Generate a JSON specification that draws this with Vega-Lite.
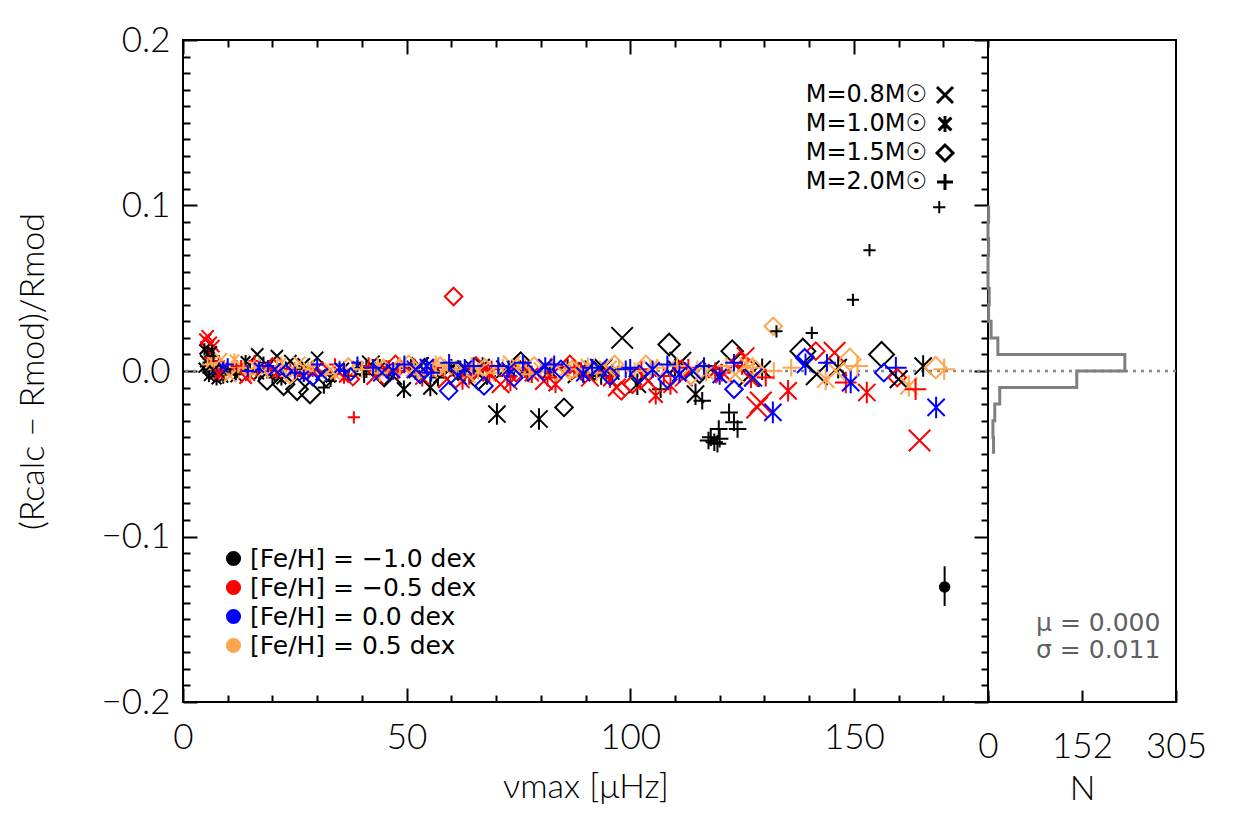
{
  "$schema": "https://vega.github.io/schema/vega-lite/v6.json",
  "background": "white",
  "padding": {"left": 15, "top": 22, "right": 5, "bottom": 5},
  "bounds": "flush",
  "spacing": 0,
  "config": {
    "view": {"stroke": "black", "strokeWidth": 2},
    "axis": {
      "labelFont": "Lato", "labelFontWeight": 300, "labelFontSize": 35, "labelColor": "black",
      "titleFont": "Lato", "titleFontWeight": 300, "titleFontSize": 34, "titleColor": "black",
      "tickColor": "black", "tickWidth": 2, "domain": false, "grid": false,
      "labelFlush": false, "labelOverlap": false, "labelBound": false
    },
    "legend": {"padding": 0, "labelLimit": 400}
  },
  "datasets": {
    "pts": [
      {"x":5.0,"y":0.019,"m":"0.8","f":"-0.5","s":1},
      {"x":5.5,"y":0.021,"m":"0.8","f":"-0.5","s":1},
      {"x":6.2,"y":0.017,"m":"0.8","f":"-0.5","s":1},
      {"x":6.8,"y":0.015,"m":"0.8","f":"-0.5","s":1},
      {"x":5.2,"y":0.014,"m":"0.8","f":"-0.5","s":1},
      {"x":4.8,"y":0.013,"m":"1.0","f":"-1.0","s":1},
      {"x":5.5,"y":0.010,"m":"1.0","f":"-1.0","s":1},
      {"x":6.5,"y":0.012,"m":"1.0","f":"-1.0","s":1},
      {"x":4.6,"y":0.002,"m":"1.0","f":"-1.0","s":1},
      {"x":5.8,"y":-0.003,"m":"1.0","f":"-1.0","s":1},
      {"x":7.5,"y":-0.005,"m":"1.0","f":"-1.0","s":1},
      {"x":9.0,"y":-0.004,"m":"1.0","f":"-1.0","s":1},
      {"x":5.2,"y":0.006,"m":"0.8","f":"-1.0","s":1},
      {"x":7.0,"y":0.003,"m":"0.8","f":"-1.0","s":1},
      {"x":8.5,"y":-0.002,"m":"0.8","f":"-1.0","s":1},
      {"x":10.5,"y":0.000,"m":"0.8","f":"-1.0","s":1},
      {"x":12.0,"y":-0.003,"m":"0.8","f":"-1.0","s":1},
      {"x":5.5,"y":0.004,"m":"2.0","f":"0.5","s":1},
      {"x":7.0,"y":0.001,"m":"2.0","f":"0.5","s":1},
      {"x":8.0,"y":0.005,"m":"2.0","f":"0.5","s":1},
      {"x":9.5,"y":-0.002,"m":"2.0","f":"0.5","s":1},
      {"x":11.0,"y":0.002,"m":"2.0","f":"0.5","s":1},
      {"x":12.5,"y":-0.001,"m":"2.0","f":"0.5","s":1},
      {"x":6.0,"y":0.008,"m":"2.0","f":"-0.5","s":1},
      {"x":8.0,"y":0.006,"m":"2.0","f":"-0.5","s":1},
      {"x":10.0,"y":0.001,"m":"2.0","f":"-0.5","s":1},
      {"x":12.0,"y":0.003,"m":"2.0","f":"-0.5","s":1},
      {"x":6.5,"y":0.006,"m":"1.0","f":"0.5","s":1},
      {"x":9.0,"y":0.003,"m":"1.0","f":"0.5","s":1},
      {"x":11.5,"y":0.007,"m":"1.0","f":"0.5","s":1},
      {"x":7.5,"y":-0.001,"m":"2.0","f":"0.0","s":1},
      {"x":10.0,"y":0.004,"m":"2.0","f":"0.0","s":1},
      {"x":6.8,"y":0.009,"m":"2.0","f":"-1.0","s":1},
      {"x":9.5,"y":0.001,"m":"2.0","f":"-1.0","s":1},
      {"x":11.8,"y":-0.002,"m":"2.0","f":"-1.0","s":1},
      {"x":8.5,"y":0.007,"m":"0.8","f":"0.5","s":1},
      {"x":10.5,"y":-0.003,"m":"0.8","f":"0.5","s":1},
      {"x":6.0,"y":-0.001,"m":"1.5","f":"-1.0","s":1},
      {"x":8.0,"y":0.000,"m":"1.5","f":"-1.0","s":1},
      {"x":9.0,"y":0.002,"m":"1.0","f":"0.0","s":1},
      {"x":8.0,"y":-0.002,"m":"1.0","f":"-0.5","s":1},
      {"x":16.6,"y":0.010,"m":"0.8","f":"-1.0","s":1},
      {"x":21.0,"y":0.009,"m":"0.8","f":"-1.0","s":1},
      {"x":30.0,"y":0.008,"m":"0.8","f":"-1.0","s":1},
      {"x":24.0,"y":0.006,"m":"0.8","f":"-1.0","s":1},
      {"x":27.0,"y":0.004,"m":"0.8","f":"-1.0","s":1},
      {"x":14.0,"y":0.006,"m":"1.0","f":"-1.0","s":1},
      {"x":17.0,"y":-0.002,"m":"1.0","f":"-1.0","s":1},
      {"x":19.0,"y":0.003,"m":"1.0","f":"-1.0","s":1},
      {"x":22.0,"y":-0.005,"m":"1.0","f":"-1.0","s":1},
      {"x":26.0,"y":0.000,"m":"1.0","f":"-1.0","s":1},
      {"x":33.0,"y":-0.004,"m":"1.0","f":"-1.0","s":1},
      {"x":36.0,"y":0.002,"m":"1.0","f":"-1.0","s":1},
      {"x":39.0,"y":0.003,"m":"1.0","f":"-1.0","s":1},
      {"x":15.0,"y":0.001,"m":"2.0","f":"-1.0","s":1},
      {"x":18.0,"y":0.005,"m":"2.0","f":"-1.0","s":1},
      {"x":20.0,"y":-0.004,"m":"2.0","f":"-1.0","s":1},
      {"x":23.0,"y":0.002,"m":"2.0","f":"-1.0","s":1},
      {"x":31.5,"y":-0.010,"m":"2.0","f":"-1.0","s":1},
      {"x":33.0,"y":-0.006,"m":"2.0","f":"-1.0","s":1},
      {"x":37.0,"y":-0.003,"m":"2.0","f":"-1.0","s":1},
      {"x":18.8,"y":-0.006,"m":"1.5","f":"-1.0","s":2},
      {"x":22.5,"y":-0.008,"m":"1.5","f":"-1.0","s":3},
      {"x":25.5,"y":-0.011,"m":"1.5","f":"-1.0","s":3},
      {"x":28.4,"y":-0.013,"m":"1.5","f":"-1.0","s":3},
      {"x":32.0,"y":-0.004,"m":"1.5","f":"-1.0","s":2},
      {"x":13.0,"y":0.003,"m":"2.0","f":"-0.5","s":1},
      {"x":16.0,"y":0.006,"m":"2.0","f":"-0.5","s":1},
      {"x":19.5,"y":0.002,"m":"2.0","f":"-0.5","s":1},
      {"x":24.0,"y":0.001,"m":"2.0","f":"-0.5","s":1},
      {"x":28.0,"y":-0.001,"m":"2.0","f":"-0.5","s":1},
      {"x":34.0,"y":0.004,"m":"2.0","f":"-0.5","s":1},
      {"x":38.2,"y":-0.028,"m":"2.0","f":"-0.5","s":1},
      {"x":14.0,"y":-0.004,"m":"0.8","f":"-0.5","s":1},
      {"x":17.5,"y":0.001,"m":"0.8","f":"-0.5","s":1},
      {"x":26.0,"y":-0.002,"m":"0.8","f":"-0.5","s":1},
      {"x":30.0,"y":0.002,"m":"0.8","f":"-0.5","s":1},
      {"x":35.0,"y":-0.001,"m":"0.8","f":"-0.5","s":1},
      {"x":15.0,"y":-0.003,"m":"1.0","f":"-0.5","s":1},
      {"x":21.0,"y":-0.001,"m":"1.0","f":"-0.5","s":1},
      {"x":29.0,"y":0.000,"m":"1.0","f":"-0.5","s":1},
      {"x":36.0,"y":-0.004,"m":"1.0","f":"-0.5","s":1},
      {"x":20.0,"y":0.004,"m":"1.5","f":"-0.5","s":1},
      {"x":31.0,"y":0.001,"m":"1.5","f":"-0.5","s":1},
      {"x":38.0,"y":-0.005,"m":"1.5","f":"-0.5","s":1},
      {"x":13.5,"y":0.002,"m":"2.0","f":"0.5","s":1},
      {"x":15.0,"y":-0.002,"m":"2.0","f":"0.5","s":1},
      {"x":17.0,"y":0.004,"m":"2.0","f":"0.5","s":1},
      {"x":19.0,"y":-0.001,"m":"2.0","f":"0.5","s":1},
      {"x":21.0,"y":0.003,"m":"2.0","f":"0.5","s":1},
      {"x":23.0,"y":-0.003,"m":"2.0","f":"0.5","s":1},
      {"x":25.0,"y":0.002,"m":"2.0","f":"0.5","s":1},
      {"x":27.0,"y":0.000,"m":"2.0","f":"0.5","s":1},
      {"x":29.0,"y":0.003,"m":"2.0","f":"0.5","s":1},
      {"x":32.0,"y":-0.002,"m":"2.0","f":"0.5","s":1},
      {"x":35.0,"y":0.003,"m":"2.0","f":"0.5","s":1},
      {"x":38.0,"y":0.001,"m":"2.0","f":"0.5","s":1},
      {"x":16.0,"y":0.003,"m":"1.0","f":"0.5","s":1},
      {"x":22.0,"y":0.005,"m":"1.0","f":"0.5","s":1},
      {"x":28.0,"y":0.002,"m":"1.0","f":"0.5","s":1},
      {"x":34.0,"y":-0.002,"m":"1.0","f":"0.5","s":1},
      {"x":18.0,"y":0.000,"m":"0.8","f":"0.5","s":1},
      {"x":26.0,"y":0.005,"m":"0.8","f":"0.5","s":1},
      {"x":33.0,"y":0.001,"m":"0.8","f":"0.5","s":1},
      {"x":24.0,"y":-0.004,"m":"1.5","f":"0.5","s":1},
      {"x":37.0,"y":0.004,"m":"1.5","f":"0.5","s":1},
      {"x":14.5,"y":0.000,"m":"2.0","f":"0.0","s":1},
      {"x":19.0,"y":0.003,"m":"2.0","f":"0.0","s":1},
      {"x":25.0,"y":-0.001,"m":"2.0","f":"0.0","s":1},
      {"x":30.0,"y":0.004,"m":"2.0","f":"0.0","s":1},
      {"x":36.0,"y":0.000,"m":"2.0","f":"0.0","s":1},
      {"x":39.0,"y":0.005,"m":"2.0","f":"0.0","s":1},
      {"x":17.0,"y":0.002,"m":"1.0","f":"0.0","s":1},
      {"x":27.0,"y":-0.003,"m":"1.0","f":"0.0","s":1},
      {"x":35.0,"y":0.002,"m":"1.0","f":"0.0","s":1},
      {"x":20.5,"y":0.001,"m":"0.8","f":"0.0","s":1},
      {"x":31.0,"y":-0.002,"m":"0.8","f":"0.0","s":1},
      {"x":23.0,"y":0.000,"m":"1.5","f":"0.0","s":1},
      {"x":29.0,"y":-0.005,"m":"1.5","f":"0.0","s":1},
      {"x":37.5,"y":-0.002,"m":"1.5","f":"0.0","s":1},
      {"x":41.0,"y":0.001,"m":"1.0","f":"-1.0","s":2},
      {"x":44.0,"y":0.002,"m":"1.0","f":"-1.0","s":2},
      {"x":49.4,"y":-0.011,"m":"1.0","f":"-1.0","s":2},
      {"x":52.0,"y":0.000,"m":"1.0","f":"-1.0","s":2},
      {"x":55.3,"y":-0.010,"m":"1.0","f":"-1.0","s":2},
      {"x":60.0,"y":0.002,"m":"1.0","f":"-1.0","s":2},
      {"x":63.0,"y":-0.001,"m":"1.0","f":"-1.0","s":2},
      {"x":67.0,"y":0.003,"m":"1.0","f":"-1.0","s":2},
      {"x":42.0,"y":0.004,"m":"0.8","f":"-1.0","s":2},
      {"x":47.0,"y":-0.003,"m":"0.8","f":"-1.0","s":2},
      {"x":53.0,"y":0.003,"m":"0.8","f":"-1.0","s":2},
      {"x":58.0,"y":-0.002,"m":"0.8","f":"-1.0","s":2},
      {"x":65.0,"y":0.001,"m":"0.8","f":"-1.0","s":2},
      {"x":40.5,"y":-0.002,"m":"2.0","f":"-1.0","s":2},
      {"x":46.0,"y":0.001,"m":"2.0","f":"-1.0","s":2},
      {"x":51.0,"y":0.002,"m":"2.0","f":"-1.0","s":2},
      {"x":57.0,"y":-0.004,"m":"2.0","f":"-1.0","s":2},
      {"x":62.0,"y":0.001,"m":"2.0","f":"-1.0","s":2},
      {"x":68.0,"y":-0.003,"m":"2.0","f":"-1.0","s":2},
      {"x":45.0,"y":-0.004,"m":"1.5","f":"-1.0","s":2},
      {"x":54.0,"y":0.002,"m":"1.5","f":"-1.0","s":2},
      {"x":61.5,"y":0.000,"m":"1.5","f":"-1.0","s":2},
      {"x":66.0,"y":-0.006,"m":"1.5","f":"-1.0","s":2},
      {"x":41.5,"y":0.003,"m":"2.0","f":"-0.5","s":2},
      {"x":48.0,"y":0.000,"m":"2.0","f":"-0.5","s":2},
      {"x":56.0,"y":0.002,"m":"2.0","f":"-0.5","s":2},
      {"x":64.0,"y":-0.003,"m":"2.0","f":"-0.5","s":2},
      {"x":69.0,"y":0.001,"m":"2.0","f":"-0.5","s":2},
      {"x":43.0,"y":-0.003,"m":"0.8","f":"-0.5","s":2},
      {"x":50.0,"y":0.002,"m":"0.8","f":"-0.5","s":2},
      {"x":59.0,"y":-0.005,"m":"0.8","f":"-0.5","s":2},
      {"x":66.5,"y":-0.001,"m":"0.8","f":"-0.5","s":2},
      {"x":45.5,"y":0.001,"m":"1.0","f":"-0.5","s":2},
      {"x":53.5,"y":-0.004,"m":"1.0","f":"-0.5","s":2},
      {"x":62.5,"y":-0.006,"m":"1.0","f":"-0.5","s":2},
      {"x":68.5,"y":-0.002,"m":"1.0","f":"-0.5","s":2},
      {"x":47.5,"y":0.004,"m":"1.5","f":"-0.5","s":2},
      {"x":60.5,"y":0.045,"m":"1.5","f":"-0.5","s":2},
      {"x":65.5,"y":0.003,"m":"1.5","f":"-0.5","s":2},
      {"x":40.0,"y":0.001,"m":"2.0","f":"0.5","s":2},
      {"x":44.0,"y":-0.001,"m":"2.0","f":"0.5","s":2},
      {"x":48.5,"y":0.003,"m":"2.0","f":"0.5","s":2},
      {"x":52.5,"y":-0.002,"m":"2.0","f":"0.5","s":2},
      {"x":56.5,"y":0.004,"m":"2.0","f":"0.5","s":2},
      {"x":61.0,"y":0.001,"m":"2.0","f":"0.5","s":2},
      {"x":64.5,"y":0.003,"m":"2.0","f":"0.5","s":2},
      {"x":69.5,"y":-0.001,"m":"2.0","f":"0.5","s":2},
      {"x":43.5,"y":0.003,"m":"1.0","f":"0.5","s":2},
      {"x":51.5,"y":0.001,"m":"1.0","f":"0.5","s":2},
      {"x":58.5,"y":0.002,"m":"1.0","f":"0.5","s":2},
      {"x":66.0,"y":0.000,"m":"1.0","f":"0.5","s":2},
      {"x":46.5,"y":0.002,"m":"0.8","f":"0.5","s":2},
      {"x":55.0,"y":0.001,"m":"0.8","f":"0.5","s":2},
      {"x":63.5,"y":-0.002,"m":"0.8","f":"0.5","s":2},
      {"x":50.5,"y":0.004,"m":"1.5","f":"0.5","s":2},
      {"x":57.5,"y":0.003,"m":"1.5","f":"0.5","s":2},
      {"x":67.5,"y":0.002,"m":"1.5","f":"0.5","s":2},
      {"x":42.5,"y":0.002,"m":"2.0","f":"0.0","s":2},
      {"x":49.5,"y":0.004,"m":"2.0","f":"0.0","s":2},
      {"x":55.5,"y":-0.001,"m":"2.0","f":"0.0","s":2},
      {"x":59.5,"y":0.005,"m":"2.0","f":"0.0","s":2},
      {"x":65.0,"y":0.003,"m":"2.0","f":"0.0","s":2},
      {"x":47.0,"y":0.000,"m":"1.0","f":"0.0","s":2},
      {"x":54.5,"y":0.003,"m":"1.0","f":"0.0","s":2},
      {"x":63.0,"y":0.002,"m":"1.0","f":"0.0","s":2},
      {"x":44.5,"y":-0.001,"m":"0.8","f":"0.0","s":2},
      {"x":52.0,"y":0.001,"m":"0.8","f":"0.0","s":2},
      {"x":61.5,"y":-0.003,"m":"0.8","f":"0.0","s":2},
      {"x":59.4,"y":-0.012,"m":"1.5","f":"0.0","s":2},
      {"x":67.3,"y":-0.009,"m":"1.5","f":"0.0","s":2},
      {"x":53.0,"y":-0.002,"m":"1.5","f":"0.0","s":2},
      {"x":70.2,"y":-0.026,"m":"1.0","f":"-1.0","s":3},
      {"x":79.6,"y":-0.029,"m":"1.0","f":"-1.0","s":3},
      {"x":74.0,"y":0.002,"m":"1.0","f":"-1.0","s":2},
      {"x":82.0,"y":0.000,"m":"1.0","f":"-1.0","s":2},
      {"x":90.0,"y":0.001,"m":"1.0","f":"-1.0","s":2},
      {"x":96.0,"y":-0.001,"m":"1.0","f":"-1.0","s":2},
      {"x":75.5,"y":0.006,"m":"1.5","f":"-1.0","s":2},
      {"x":85.2,"y":-0.022,"m":"1.5","f":"-1.0","s":2},
      {"x":92.0,"y":0.000,"m":"1.5","f":"-1.0","s":2},
      {"x":72.0,"y":0.001,"m":"0.8","f":"-1.0","s":2},
      {"x":88.0,"y":-0.002,"m":"0.8","f":"-1.0","s":2},
      {"x":94.0,"y":0.002,"m":"0.8","f":"-1.0","s":2},
      {"x":98.2,"y":0.020,"m":"0.8","f":"-1.0","s":3},
      {"x":77.0,"y":-0.001,"m":"2.0","f":"-1.0","s":2},
      {"x":86.0,"y":0.002,"m":"2.0","f":"-1.0","s":2},
      {"x":93.5,"y":-0.003,"m":"2.0","f":"-1.0","s":2},
      {"x":71.0,"y":-0.008,"m":"0.8","f":"-0.5","s":2},
      {"x":80.7,"y":-0.006,"m":"0.8","f":"-0.5","s":2},
      {"x":84.0,"y":0.002,"m":"0.8","f":"-0.5","s":2},
      {"x":91.0,"y":-0.004,"m":"0.8","f":"-0.5","s":2},
      {"x":97.0,"y":-0.010,"m":"0.8","f":"-0.5","s":2},
      {"x":73.2,"y":-0.007,"m":"1.0","f":"-0.5","s":2},
      {"x":83.3,"y":-0.008,"m":"1.0","f":"-0.5","s":2},
      {"x":78.0,"y":-0.002,"m":"1.0","f":"-0.5","s":2},
      {"x":89.0,"y":0.000,"m":"1.0","f":"-0.5","s":2},
      {"x":95.5,"y":-0.005,"m":"1.0","f":"-0.5","s":2},
      {"x":72.5,"y":-0.003,"m":"2.0","f":"-0.5","s":2},
      {"x":76.5,"y":0.001,"m":"2.0","f":"-0.5","s":2},
      {"x":81.5,"y":-0.004,"m":"2.0","f":"-0.5","s":2},
      {"x":87.5,"y":0.002,"m":"2.0","f":"-0.5","s":2},
      {"x":94.5,"y":0.000,"m":"2.0","f":"-0.5","s":2},
      {"x":74.5,"y":-0.001,"m":"1.5","f":"-0.5","s":2},
      {"x":86.5,"y":0.004,"m":"1.5","f":"-0.5","s":2},
      {"x":98.0,"y":-0.012,"m":"1.5","f":"-0.5","s":2},
      {"x":71.5,"y":0.002,"m":"2.0","f":"0.5","s":2},
      {"x":77.5,"y":-0.002,"m":"2.0","f":"0.5","s":2},
      {"x":82.5,"y":0.003,"m":"2.0","f":"0.5","s":2},
      {"x":88.0,"y":0.001,"m":"2.0","f":"0.5","s":2},
      {"x":92.5,"y":-0.001,"m":"2.0","f":"0.5","s":2},
      {"x":97.5,"y":0.002,"m":"2.0","f":"0.5","s":2},
      {"x":75.0,"y":0.003,"m":"1.0","f":"0.5","s":2},
      {"x":80.0,"y":0.001,"m":"1.0","f":"0.5","s":2},
      {"x":90.5,"y":0.003,"m":"1.0","f":"0.5","s":2},
      {"x":73.5,"y":0.004,"m":"0.8","f":"0.5","s":2},
      {"x":85.0,"y":-0.001,"m":"0.8","f":"0.5","s":2},
      {"x":95.0,"y":0.001,"m":"0.8","f":"0.5","s":2},
      {"x":78.5,"y":0.003,"m":"1.5","f":"0.5","s":2},
      {"x":87.0,"y":0.001,"m":"1.5","f":"0.5","s":2},
      {"x":96.5,"y":0.004,"m":"1.5","f":"0.5","s":2},
      {"x":70.5,"y":0.003,"m":"2.0","f":"0.0","s":2},
      {"x":76.0,"y":0.005,"m":"2.0","f":"0.0","s":2},
      {"x":83.0,"y":0.004,"m":"2.0","f":"0.0","s":2},
      {"x":91.5,"y":0.002,"m":"2.0","f":"0.0","s":2},
      {"x":99.0,"y":0.001,"m":"2.0","f":"0.0","s":2},
      {"x":72.8,"y":0.001,"m":"1.0","f":"0.0","s":2},
      {"x":81.0,"y":0.003,"m":"1.0","f":"0.0","s":2},
      {"x":89.5,"y":-0.002,"m":"1.0","f":"0.0","s":2},
      {"x":79.0,"y":-0.001,"m":"0.8","f":"0.0","s":2},
      {"x":93.0,"y":0.002,"m":"0.8","f":"0.0","s":2},
      {"x":74.0,"y":-0.004,"m":"1.5","f":"0.0","s":2},
      {"x":84.5,"y":0.001,"m":"1.5","f":"0.0","s":2},
      {"x":95.5,"y":-0.003,"m":"1.5","f":"0.0","s":2},
      {"x":101.6,"y":-0.008,"m":"1.0","f":"-1.0","s":3},
      {"x":114.6,"y":-0.014,"m":"1.0","f":"-1.0","s":3},
      {"x":110.0,"y":0.002,"m":"1.0","f":"-1.0","s":2},
      {"x":129.5,"y":0.001,"m":"1.0","f":"-1.0","s":3},
      {"x":111.2,"y":0.005,"m":"0.8","f":"-1.0","s":3},
      {"x":103.0,"y":-0.003,"m":"0.8","f":"-1.0","s":2},
      {"x":126.5,"y":-0.003,"m":"0.8","f":"-1.0","s":3},
      {"x":118.0,"y":0.001,"m":"0.8","f":"-1.0","s":2},
      {"x":108.7,"y":0.016,"m":"1.5","f":"-1.0","s":3},
      {"x":122.8,"y":0.012,"m":"1.5","f":"-1.0","s":3},
      {"x":115.5,"y":-0.002,"m":"1.5","f":"-1.0","s":2},
      {"x":106.8,"y":-0.011,"m":"2.0","f":"-1.0","s":2},
      {"x":116.1,"y":-0.018,"m":"2.0","f":"-1.0","s":2},
      {"x":118.0,"y":-0.040,"m":"2.0","f":"-1.0","s":2},
      {"x":118.8,"y":-0.043,"m":"2.0","f":"-1.0","s":2},
      {"x":120.0,"y":-0.041,"m":"2.0","f":"-1.0","s":2},
      {"x":119.5,"y":-0.044,"m":"2.0","f":"-1.0","s":2},
      {"x":119.8,"y":-0.035,"m":"2.0","f":"-1.0","s":2},
      {"x":122.1,"y":-0.025,"m":"2.0","f":"-1.0","s":2},
      {"x":123.2,"y":-0.031,"m":"2.0","f":"-1.0","s":2},
      {"x":124.0,"y":-0.035,"m":"2.0","f":"-1.0","s":2},
      {"x":117.5,"y":-0.042,"m":"2.0","f":"-1.0","s":2},
      {"x":125.8,"y":0.009,"m":"0.8","f":"-0.5","s":2},
      {"x":128.4,"y":-0.022,"m":"0.8","f":"-0.5","s":3},
      {"x":104.0,"y":-0.006,"m":"0.8","f":"-0.5","s":2},
      {"x":112.0,"y":-0.004,"m":"0.8","f":"-0.5","s":2},
      {"x":121.0,"y":-0.002,"m":"0.8","f":"-0.5","s":2},
      {"x":105.7,"y":-0.015,"m":"1.0","f":"-0.5","s":2},
      {"x":109.0,"y":-0.009,"m":"1.0","f":"-0.5","s":2},
      {"x":119.0,"y":0.000,"m":"1.0","f":"-0.5","s":2},
      {"x":127.0,"y":-0.005,"m":"1.0","f":"-0.5","s":2},
      {"x":102.5,"y":0.001,"m":"2.0","f":"-0.5","s":2},
      {"x":107.5,"y":-0.003,"m":"2.0","f":"-0.5","s":2},
      {"x":113.0,"y":0.002,"m":"2.0","f":"-0.5","s":2},
      {"x":120.5,"y":-0.001,"m":"2.0","f":"-0.5","s":2},
      {"x":125.0,"y":0.003,"m":"2.0","f":"-0.5","s":2},
      {"x":100.5,"y":-0.008,"m":"1.5","f":"-0.5","s":2},
      {"x":111.5,"y":0.001,"m":"1.5","f":"-0.5","s":2},
      {"x":124.5,"y":0.006,"m":"1.5","f":"-0.5","s":2},
      {"x":101.0,"y":0.000,"m":"2.0","f":"0.5","s":2},
      {"x":106.0,"y":0.002,"m":"2.0","f":"0.5","s":2},
      {"x":110.5,"y":0.003,"m":"2.0","f":"0.5","s":2},
      {"x":115.0,"y":0.001,"m":"2.0","f":"0.5","s":2},
      {"x":121.5,"y":0.003,"m":"2.0","f":"0.5","s":2},
      {"x":127.5,"y":0.002,"m":"2.0","f":"0.5","s":2},
      {"x":104.5,"y":0.002,"m":"1.0","f":"0.5","s":2},
      {"x":117.0,"y":-0.001,"m":"1.0","f":"0.5","s":2},
      {"x":126.0,"y":0.004,"m":"1.0","f":"0.5","s":2},
      {"x":108.0,"y":0.001,"m":"0.8","f":"0.5","s":2},
      {"x":123.5,"y":-0.002,"m":"0.8","f":"0.5","s":2},
      {"x":103.5,"y":0.004,"m":"1.5","f":"0.5","s":2},
      {"x":113.5,"y":-0.003,"m":"1.5","f":"0.5","s":2},
      {"x":128.0,"y":0.001,"m":"1.5","f":"0.5","s":2},
      {"x":108.3,"y":0.004,"m":"2.0","f":"0.0","s":2},
      {"x":123.2,"y":0.005,"m":"2.0","f":"0.0","s":2},
      {"x":100.0,"y":0.002,"m":"2.0","f":"0.0","s":2},
      {"x":116.5,"y":0.003,"m":"2.0","f":"0.0","s":2},
      {"x":111.0,"y":-0.002,"m":"1.0","f":"0.0","s":2},
      {"x":120.0,"y":-0.003,"m":"1.0","f":"0.0","s":2},
      {"x":105.0,"y":0.001,"m":"1.0","f":"0.0","s":2},
      {"x":114.0,"y":0.000,"m":"0.8","f":"0.0","s":2},
      {"x":127.5,"y":-0.004,"m":"0.8","f":"0.0","s":2},
      {"x":108.3,"y":-0.005,"m":"1.5","f":"0.0","s":2},
      {"x":123.2,"y":-0.011,"m":"1.5","f":"0.0","s":2},
      {"x":102.0,"y":-0.002,"m":"1.5","f":"0.0","s":2},
      {"x":132.0,"y":0.027,"m":"1.5","f":"0.5","s":2},
      {"x":132.7,"y":0.024,"m":"2.0","f":"-1.0","s":1},
      {"x":140.6,"y":0.023,"m":"2.0","f":"-1.0","s":1},
      {"x":149.8,"y":0.043,"m":"2.0","f":"-1.0","s":1},
      {"x":153.5,"y":0.073,"m":"2.0","f":"-1.0","s":1},
      {"x":169.1,"y":0.099,"m":"2.0","f":"-1.0","s":1},
      {"x":138.6,"y":0.012,"m":"1.5","f":"-1.0","s":4},
      {"x":141.5,"y":0.012,"m":"1.5","f":"-0.5","s":2},
      {"x":145.7,"y":0.011,"m":"0.8","f":"-0.5","s":3},
      {"x":149.1,"y":0.007,"m":"1.5","f":"0.5","s":3},
      {"x":139.2,"y":0.004,"m":"1.0","f":"0.0","s":3},
      {"x":139.0,"y":0.008,"m":"1.5","f":"0.0","s":2},
      {"x":132.1,"y":0.000,"m":"2.0","f":"0.5","s":2},
      {"x":130.3,"y":-0.004,"m":"2.0","f":"-0.5","s":2},
      {"x":141.7,"y":-0.002,"m":"0.8","f":"-1.0","s":3},
      {"x":143.7,"y":-0.005,"m":"1.0","f":"0.5","s":3},
      {"x":146.5,"y":0.002,"m":"1.0","f":"-1.0","s":3},
      {"x":148.2,"y":-0.007,"m":"2.0","f":"-0.5","s":3},
      {"x":149.3,"y":-0.007,"m":"1.0","f":"0.0","s":3},
      {"x":150.8,"y":0.003,"m":"2.0","f":"0.5","s":3},
      {"x":135.3,"y":-0.012,"m":"1.0","f":"-0.5","s":3},
      {"x":152.9,"y":-0.013,"m":"1.0","f":"-0.5","s":3},
      {"x":129.2,"y":-0.019,"m":"0.8","f":"-0.5","s":3},
      {"x":131.9,"y":-0.025,"m":"1.0","f":"0.0","s":3},
      {"x":156.2,"y":0.010,"m":"1.5","f":"-1.0","s":4},
      {"x":156.7,"y":-0.001,"m":"1.5","f":"0.0","s":2},
      {"x":159.4,"y":0.002,"m":"2.0","f":"0.0","s":3},
      {"x":159.7,"y":-0.004,"m":"1.5","f":"-0.5","s":2},
      {"x":160.0,"y":-0.005,"m":"0.8","f":"-1.0","s":2},
      {"x":165.5,"y":0.003,"m":"1.0","f":"-1.0","s":3},
      {"x":168.3,"y":0.002,"m":"1.5","f":"0.5","s":3},
      {"x":170.2,"y":0.001,"m":"2.0","f":"0.5","s":3},
      {"x":162.3,"y":-0.009,"m":"1.0","f":"0.5","s":3},
      {"x":163.8,"y":-0.011,"m":"2.0","f":"-0.5","s":3},
      {"x":168.4,"y":-0.022,"m":"1.0","f":"0.0","s":3},
      {"x":164.7,"y":-0.042,"m":"0.8","f":"-0.5","s":3},
      {"x":146.0,"y":0.000,"m":"0.8","f":"0.5","s":2},
      {"x":136.0,"y":0.002,"m":"2.0","f":"0.5","s":2},
      {"x":144.0,"y":0.005,"m":"2.0","f":"0.0","s":2}
    ],
    "hist": [
      {"hi":0.10,"lo":0.09,"n":1},
      {"hi":0.09,"lo":0.08,"n":0},
      {"hi":0.08,"lo":0.07,"n":1},
      {"hi":0.07,"lo":0.06,"n":0},
      {"hi":0.06,"lo":0.05,"n":0},
      {"hi":0.05,"lo":0.04,"n":2},
      {"hi":0.04,"lo":0.03,"n":1},
      {"hi":0.03,"lo":0.02,"n":5},
      {"hi":0.02,"lo":0.01,"n":16},
      {"hi":0.01,"lo":0.0,"n":222},
      {"hi":0.0,"lo":-0.01,"n":144},
      {"hi":-0.01,"lo":-0.02,"n":19},
      {"hi":-0.02,"lo":-0.03,"n":11},
      {"hi":-0.03,"lo":-0.04,"n":8},
      {"hi":-0.04,"lo":-0.05,"n":9}
    ]
  },
  "hconcat": [
    {
      "width": 805,
      "height": 662,
      "layer": [
        {
          "data": {"values": [{}]},
          "mark": {"type": "rule", "color": "#888888", "strokeWidth": 2.5, "strokeDash": [3, 5]},
          "encoding": {"y": {"datum": 0, "type": "quantitative", "scale": {"domain": [-0.2, 0.2], "nice": false, "zero": false}, "axis": null}}
        },
        {
          "data": {"values": [{}]},
          "mark": {"type": "rule", "color": "black", "strokeWidth": 2},
          "encoding": {
            "x": {"datum": 170.3, "type": "quantitative", "scale": {"domain": [0, 180], "nice": false, "zero": false}, "axis": null},
            "y": {"datum": -0.118, "type": "quantitative", "scale": {"domain": [-0.2, 0.2], "nice": false, "zero": false}, "axis": null},
            "y2": {"datum": -0.142}
          }
        },
        {
          "data": {"name": "pts"},
          "mark": {"type": "point", "filled": true, "opacity": 0, "shape": "circle"},
          "encoding": {
            "fill": {
              "field": "f", "type": "nominal",
              "scale": {"domain": ["-1.0", "-0.5", "0.0", "0.5"], "range": ["#000000", "#ff0000", "#0000ff", "#ffa64f"]},
              "legend": {
                "orient": "none", "legendX": 38, "legendY": 506,
                "title": null, "symbolType": "circle", "symbolSize": 230, "symbolOpacity": 1, "symbolStrokeWidth": 0,
                "labelFont": "DejaVu Sans", "labelFontSize": 25, "labelColor": "black",
                "labelOffset": 4, "rowPadding": 3,
                "labelExpr": "'[Fe/H] = ' + replace(datum.label, '-', '−') + ' dex'"
              }
            }
          }
        },
        {
          "data": {"name": "pts"},
          "mark": {"type": "point", "filled": false, "strokeWidth": 2, "opacity": 1},
          "encoding": {
            "x": {
              "field": "x", "type": "quantitative",
              "scale": {"domain": [0, 180], "nice": false, "zero": false},
              "axis": {
                "orient": "bottom",
                "values": [0,10,20,30,40,50,60,70,80,90,100,110,120,130,140,150,160,170,180],
                "labelExpr": "datum.value % 50 == 0 && datum.value < 180 ? format(datum.value, 'd') : ''",
                "tickSize": {"condition": {"test": "datum.value % 50 == 0", "value": -14}, "value": -7},
                "labelPadding": 32,
                "title": "νmax [μHz]",
                "titlePadding": 8
              }
            },
            "y": {
              "field": "y", "type": "quantitative",
              "scale": {"domain": [-0.2, 0.2], "nice": false, "zero": false},
              "axis": {
                "orient": "left",
                "values": [-0.2,-0.19,-0.18,-0.17,-0.16,-0.15,-0.14,-0.13,-0.12,-0.11,-0.1,-0.09,-0.08,-0.07,-0.06,-0.05,-0.04,-0.03,-0.02,-0.01,0,0.01,0.02,0.03,0.04,0.05,0.06,0.07,0.08,0.09,0.1,0.11,0.12,0.13,0.14,0.15,0.16,0.17,0.18,0.19,0.2],
                "labelExpr": "abs(datum.value*10 - round(datum.value*10)) < 0.001 ? format(datum.value, '.1f') : ''",
                "tickSize": {"condition": {"test": "abs(datum.value*10 - round(datum.value*10)) < 0.001", "value": -14}, "value": -7},
                "labelPadding": 27,
                "title": "(Rcalc − Rmod)/Rmod",
                "titlePadding": 50
              }
            },
            "stroke": {
              "field": "f", "type": "nominal",
              "scale": {"domain": ["-1.0", "-0.5", "0.0", "0.5"], "range": ["#000000", "#ff0000", "#0000ff", "#ffa64f"]},
              "legend": null
            },
            "shape": {
              "field": "m", "type": "nominal",
              "scale": {
                "domain": ["0.8", "1.0", "1.5", "2.0"],
                "range": ["M-1,-1L1,1M-1,1L1,-1", "M0,-1L0,1M-0.8,-0.8L0.8,0.8M-0.8,0.8L0.8,-0.8", "diamond", "M-1,0L1,0M0,-1L0,1"]
              },
              "legend": {
                "orient": "none", "legendX": 750, "legendY": 43,
                "title": null, "symbolSize": 256, "symbolStrokeWidth": 3, "symbolStrokeColor": "black",
                "symbolFillColor": "transparent",
                "labelFont": "DejaVu Sans", "labelFontSize": 24, "labelColor": "black",
                "labelAlign": "right", "labelOffset": -30, "rowPadding": 1,
                "labelExpr": "'M=' + datum.label + 'M☉'"
              }
            },
            "size": {
              "field": "s", "type": "quantitative",
              "scale": {"domain": [1, 4], "range": [150, 620]},
              "legend": null
            }
          }
        },
        {
          "data": {"values": [{}]},
          "mark": {"type": "point", "filled": true, "color": "black", "size": 133, "shape": "circle", "opacity": 1},
          "encoding": {
            "x": {
              "datum": 170.3, "type": "quantitative",
              "scale": {"domain": [0, 180], "nice": false, "zero": false},
              "axis": {
                "orient": "top", "labels": false, "title": null,
                "values": [0,10,20,30,40,50,60,70,80,90,100,110,120,130,140,150,160,170,180],
                "tickSize": {"condition": {"test": "datum.value % 50 == 0", "value": -14}, "value": -7}
              }
            },
            "y": {
              "datum": -0.1305, "type": "quantitative",
              "scale": {"domain": [-0.2, 0.2], "nice": false, "zero": false},
              "axis": {
                "orient": "right", "labels": false, "title": null,
                "values": [-0.2,-0.19,-0.18,-0.17,-0.16,-0.15,-0.14,-0.13,-0.12,-0.11,-0.1,-0.09,-0.08,-0.07,-0.06,-0.05,-0.04,-0.03,-0.02,-0.01,0,0.01,0.02,0.03,0.04,0.05,0.06,0.07,0.08,0.09,0.1,0.11,0.12,0.13,0.14,0.15,0.16,0.17,0.18,0.19,0.2],
                "tickSize": {"condition": {"test": "abs(datum.value*10 - round(datum.value*10)) < 0.001", "value": -14}, "value": -7}
              }
            }
          }
        }
      ],
      "resolve": {"scale": {"x": "independent", "y": "independent"}}
    },
    {
      "width": 188,
      "height": 662,
      "layer": [
        {
          "data": {"values": [{}]},
          "mark": {"type": "rule", "color": "#888888", "strokeWidth": 2.5, "strokeDash": [3, 5]},
          "encoding": {"y": {"datum": 0, "type": "quantitative", "scale": {"domain": [-0.2, 0.2], "nice": false, "zero": false}, "axis": null}}
        },
        {
          "data": {"name": "hist"},
          "transform": [{"fold": ["hi", "lo"], "as": ["edge", "yv"]}],
          "mark": {"type": "line", "color": "#808080", "strokeWidth": 3},
          "encoding": {
            "x": {
              "field": "n", "type": "quantitative",
              "scale": {"domain": [0, 305], "nice": false, "zero": false},
              "axis": {
                "values": [0, 152.5, 305],
                "labelExpr": "datum.value == 152.5 ? '152' : format(datum.value, 'd')",
                "tickSize": -12,
                "labelPadding": 39,
                "title": "N",
                "titlePadding": 8
              }
            },
            "y": {
              "field": "yv", "type": "quantitative",
              "scale": {"domain": [-0.2, 0.2], "nice": false, "zero": false},
              "axis": null
            },
            "order": {"field": "yv", "sort": "descending"}
          }
        },
        {
          "data": {"values": [{}]},
          "mark": {"type": "text", "text": "μ   =   0.000", "align": "left", "baseline": "middle", "font": "DejaVu Sans", "fontSize": 25, "color": "#606060"},
          "encoding": {"x": {"datum": 78, "type": "quantitative"}, "y": {"datum": -0.152, "type": "quantitative"}}
        },
        {
          "data": {"values": [{}]},
          "mark": {"type": "text", "text": "σ   =   0.011", "align": "left", "baseline": "middle", "font": "DejaVu Sans", "fontSize": 25, "color": "#606060"},
          "encoding": {"x": {"datum": 78, "type": "quantitative"}, "y": {"datum": -0.1685, "type": "quantitative"}}
        }
      ]
    }
  ]
}
